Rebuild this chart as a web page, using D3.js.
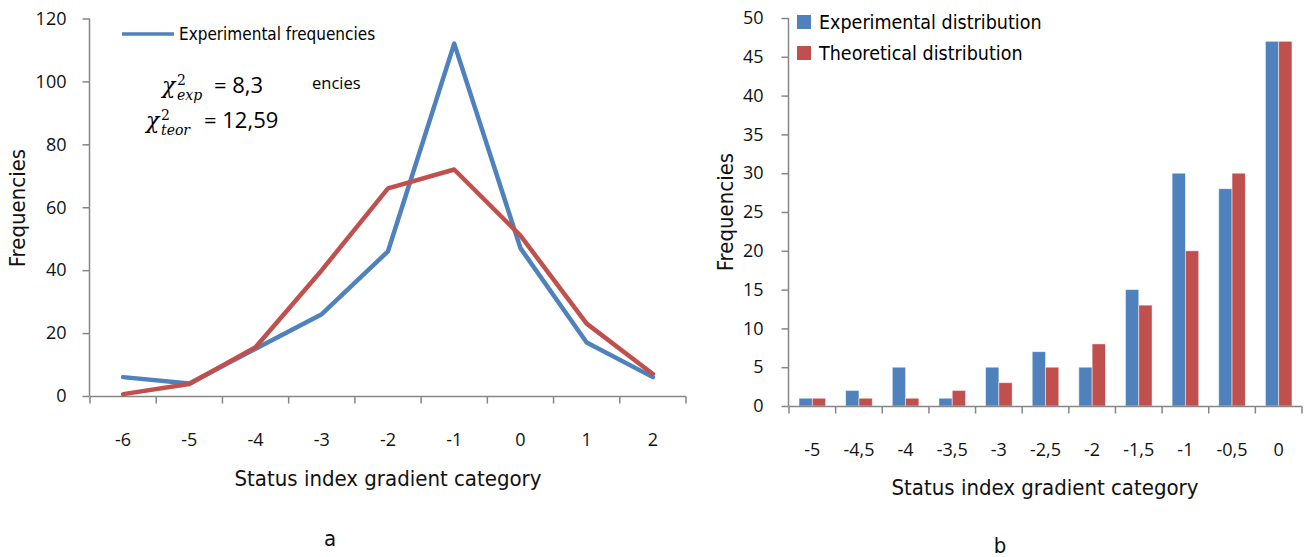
<!DOCTYPE html>
<html>
<head>
<meta charset="utf-8">
<script src="https://cdn.jsdelivr.net/npm/d3@7"></script>
<style>
	body { margin: 0; background: #fff; }
	svg { display: block; }
	.tick text { font-family: 'Open Sans', sans-serif; font-size: 18px; fill: #111; }
	.title { font-family: 'Liberation Sans Narrow', 'DejaVu Sans Condensed', sans-serif; font-size: 22px; fill: #111; }
</style>
</head>
<body>
<div id="canvas"></div>
<script>
// panel a
const catsA = ['-6', '-5', '-4', '-3', '-2', '-1', '0', '1', '2'];
const expFreq = [6, 4, 15, 26, 46, 112, 47, 17, 6];
const teorFreq = [0.6, 3.8, 15.5, 40, 66, 72, 51, 23, 7];
const ticksA = [0, 20, 40, 60, 80, 100, 120];

// panel b
const catsB = ['-5', '-4,5', '-4', '-3,5', '-3', '-2,5', '-2', '-1,5', '-1', '-0,5', '0'];
const expDist = [1, 2, 5, 1, 5, 7, 5, 15, 30, 28, 47];
const teorDist = [1, 1, 1, 2, 3, 5, 8, 13, 20, 30, 47];
const ticksB = [0, 5, 10, 15, 20, 25, 30, 35, 40, 45, 50];

const blue = '#4F81BD';
const red = '#C0504D';
const axisCol = '#868686';

function onLoad () {
	const svg = d3.select('#canvas')
	.append('svg')
		.attr('width', 1309)
		.attr('height', 557);

	drawA(svg.append('g').attr('class', 'panel-a'));
	drawB(svg.append('g').attr('class', 'panel-b'));
}

function styleAxis (g) {
	g.select('.domain').remove();
	g.selectAll('.tick line').style('stroke', axisCol).style('stroke-width', 1.5);
}

// category axis with ticks between the bands, like the spreadsheet does
function catAxis (g, x, y0, labelY) {
	const [ r0, r1 ] = x.range();
	const bounds = x.domain().map(d => x(d) - x.step() * x.paddingOuter()).concat([r1]);
	g.append('line')
		.attr('x1', r0).attr('x2', r1)
		.attr('y1', y0).attr('y2', y0)
		.style('stroke', axisCol).style('stroke-width', 1.5);
	g.selectAll('line.tk').data(bounds).join('line')
		.attr('class', 'tk')
		.attr('x1', d => d).attr('x2', d => d)
		.attr('y1', y0).attr('y2', y0 + 7)
		.style('stroke', axisCol).style('stroke-width', 1.5);
	g.selectAll('text.lbl').data(x.domain()).join('text')
		.attr('class', 'lbl')
		.attr('x', d => x(d) + x.bandwidth() / 2)
		.attr('y', labelY)
		.attr('dy', '0.35em')
		.attr('text-anchor', 'middle')
		.style('font-family', "'Open Sans', sans-serif")
		.style('font-size', '18px')
		.style('fill', '#111')
		.text(d => d);
}

function drawA (g) {
	const x = d3.scaleBand().domain(catsA).range([90, 686]);
	const y = d3.scaleLinear().domain([0, 120]).range([396, 18.5]);

	const yAxis = g.append('g')
		.attr('transform', 'translate(89.5,0)')
		.call(d3.axisLeft(y).tickValues(ticksA).tickSize(7).tickPadding(16));
	styleAxis(yAxis);
	g.append('line')
		.attr('x1', 89.5).attr('x2', 89.5)
		.attr('y1', y(120)).attr('y2', y(0))
		.style('stroke', axisCol).style('stroke-width', 1.5);

	catAxis(g.append('g'), x, 396.5, 440);

	const line = d3.line()
		.x((d, i) => x(catsA[i]) + x.bandwidth() / 2)
		.y(d => y(d));

	[ [ expFreq, blue ], [ teorFreq, red ] ].forEach(([ vals, col ]) => {
		g.append('path')
			.datum(vals)
			.attr('d', line)
			.style('fill', 'none')
			.style('stroke', col)
			.style('stroke-width', 4.5)
			.style('stroke-linejoin', 'round')
			.style('stroke-linecap', 'round');
	});

	// legend (partly hidden in the original)
	g.append('line')
		.attr('x1', 122).attr('x2', 174)
		.attr('y1', 34).attr('y2', 34)
		.style('stroke', blue).style('stroke-width', 3.5);
	g.append('text')
		.attr('x', 179).attr('y', 34).attr('dy', '0.35em')
		.style('font-family', "'Liberation Sans Narrow', 'DejaVu Sans Condensed', sans-serif")
		.style('font-size', '17px')
		.text('Experimental frequencies');
	g.append('text')
		.attr('x', 312).attr('y', 83).attr('dy', '0.35em')
		.style('font-family', "'Open Sans', sans-serif")
		.style('font-size', '16.5px')
		.text('encies');

	// chi-square annotation: symbol, superscript, subscript and value as separate texts
	const chi = [ { sub: 'exp', val: '= 8,3', x: 162, y: 93 }, { sub: 'teor', val: '= 12,59', x: 146, y: 128 } ];
	const serif = "'DejaVu Serif', serif";
	chi.forEach(c => {
		g.append('text')
			.attr('x', c.x).attr('y', c.y)
			.style('font-family', serif).style('font-style', 'italic').style('font-size', '22px')
			.text('χ');
		g.append('text')
			.attr('x', c.x + 15).attr('y', c.y - 8)
			.style('font-family', serif).style('font-size', '14px')
			.text('2');
		g.append('text')
			.attr('x', c.x + 15).attr('y', c.y + 7)
			.style('font-family', serif).style('font-style', 'italic').style('font-size', '14px')
			.text(c.sub);
		g.append('text')
			.attr('x', c.x + (c.sub === 'exp' ? 52 : 58)).attr('y', c.y)
			.style('font-family', "'Open Sans', sans-serif").style('font-size', '22px')
			.text(c.val);
	});

	g.append('text')
		.attr('class', 'title')
		.attr('transform', 'translate(17,208)rotate(-90)')
		.attr('dy', '0.35em')
		.attr('text-anchor', 'middle')
		.text('Frequencies');
	g.append('text')
		.attr('class', 'title')
		.attr('x', 388).attr('y', 478).attr('dy', '0.35em')
		.attr('text-anchor', 'middle')
		.text('Status index gradient category');
	g.append('text')
		.attr('class', 'title')
		.attr('x', 330).attr('y', 538).attr('dy', '0.35em')
		.attr('text-anchor', 'middle')
		.text('a');
}

function drawB (g) {
	const x = d3.scaleBand().domain(catsB).range([789, 1302]).paddingInner(0.43).paddingOuter(0.215);
	const y = d3.scaleLinear().domain([0, 50]).range([406, 18]);
	const xs = d3.scaleBand().domain(['exp', 'teor']).range([0, x.bandwidth()]);

	const yAxis = g.append('g')
		.attr('transform', 'translate(788.5,0)')
		.call(d3.axisLeft(y).tickValues(ticksB).tickSize(7).tickPadding(18));
	styleAxis(yAxis);
	g.append('line')
		.attr('x1', 788.5).attr('x2', 788.5)
		.attr('y1', y(50)).attr('y2', y(0))
		.style('stroke', axisCol).style('stroke-width', 1.5);

	const rows = catsB.map((c, i) => ({ c, exp: expDist[i], teor: teorDist[i] }));
	const grp = g.selectAll('g.cat').data(rows).join('g')
		.attr('class', 'cat')
		.attr('transform', d => `translate(${x(d.c)},0)`);
	grp.selectAll('rect').data(d => [ { k: 'exp', v: d.exp }, { k: 'teor', v: d.teor } ]).join('rect')
		.attr('x', d => xs(d.k))
		.attr('y', d => y(d.v))
		.attr('width', xs.bandwidth())
		.attr('height', d => y(0) - y(d.v))
		.style('fill', d => d.k === 'exp' ? blue : red)
		.style('stroke', '#fff')
		.style('stroke-opacity', 0.6)
		.style('stroke-width', 0.8);

	catAxis(g.append('g'), x, 406.5, 450);

	// legend
	const leg = [ { label: 'Experimental distribution', col: blue, y: 22 }, { label: 'Theoretical distribution', col: red, y: 53 } ];
	leg.forEach(l => {
		g.append('rect')
			.attr('x', 797).attr('y', l.y - 7)
			.attr('width', 14).attr('height', 14)
			.style('fill', l.col);
		g.append('text')
			.attr('x', 819).attr('y', l.y).attr('dy', '0.35em')
			.style('font-family', "'Liberation Sans Narrow', 'DejaVu Sans Condensed', sans-serif")
			.style('font-size', '19.5px')
			.text(l.label);
	});

	g.append('text')
		.attr('class', 'title')
		.attr('transform', 'translate(725,212)rotate(-90)')
		.attr('dy', '0.35em')
		.attr('text-anchor', 'middle')
		.text('Frequencies');
	g.append('text')
		.attr('class', 'title')
		.attr('x', 1045).attr('y', 487).attr('dy', '0.35em')
		.attr('text-anchor', 'middle')
		.text('Status index gradient category');
	g.append('text')
		.attr('class', 'title')
		.attr('x', 1000).attr('y', 545).attr('dy', '0.35em')
		.attr('text-anchor', 'middle')
		.text('b');
}

if (document.readyState === 'loading') {
	document.addEventListener('DOMContentLoaded', onLoad);
} else {
	onLoad();
}
</script>
</body>
</html>
